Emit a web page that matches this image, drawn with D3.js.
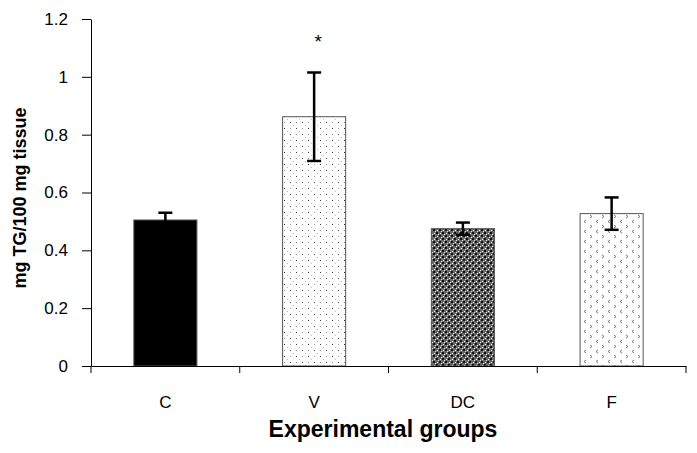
<!DOCTYPE html>
<html>
<head>
<meta charset="utf-8">
<script src="https://cdn.jsdelivr.net/npm/d3@7"></script>
<style>
  body { margin: 0; background: #fff; }
  text { font-family: "Liberation Sans", Arial, sans-serif; }
</style>
</head>
<body>
<svg id="chart" width="697" height="453"></svg>
<script>
const groups = ["C", "V", "DC", "F"];
const means = [0.505, 0.862, 0.475, 0.527];
const errors = [0.025, 0.153, 0.021, 0.056];
const fills = ["black", "url(#dots)", "url(#checks)", "url(#chevrons)"];
const yTicks = [0, 0.2, 0.4, 0.6, 0.8, 1, 1.2];
const marked = ["V"];

const svg = d3.select("#chart");
const margin = { top: 19, right: 11, bottom: 87, left: 91 };
const width = +svg.attr("width") - margin.left - margin.right;
const height = +svg.attr("height") - margin.top - margin.bottom;

// patterns
const defs = svg.append("defs");

const dots = defs.append("pattern").attr("id", "dots")
  .attr("patternUnits", "userSpaceOnUse").attr("width", 12).attr("height", 12);
dots.append("rect").attr("width", 12).attr("height", 12).attr("fill", "#fff");
[[1, 1, "#333"], [7, 1, "#999"], [1, 7, "#888"], [7, 7, "#444"], [4, 4, "#bbb"], [10, 10, "#bbb"]].forEach(([x, y, c]) => {
  dots.append("rect").attr("x", x).attr("y", y).attr("width", 1).attr("height", 1).attr("fill", c);
});

const checks = defs.append("pattern").attr("id", "checks")
  .attr("patternUnits", "userSpaceOnUse").attr("width", 6).attr("height", 6);
checks.append("rect").attr("width", 6).attr("height", 6).attr("fill", "#6a6a6a");
[[0, 0, 2, 2, "#111"], [3, 3, 2, 2, "#111"], [4, 1, 1, 1, "#fff"], [1, 4, 1, 1, "#fff"],
 [2, 2, 1, 1, "#ddd"], [5, 5, 1, 1, "#ddd"]].forEach(([x, y, w, h, c]) => {
  checks.append("rect").attr("x", x).attr("y", y).attr("width", w).attr("height", h).attr("fill", c);
});

const chev = defs.append("pattern").attr("id", "chevrons")
  .attr("patternUnits", "userSpaceOnUse").attr("width", 12).attr("height", 10);
chev.append("rect").attr("width", 12).attr("height", 10).attr("fill", "#fff");
chev.append("path").attr("d", "M3,1 L1,2.5 L3,4").attr("fill", "none").attr("stroke", "#777").attr("stroke-width", 1);
chev.append("path").attr("d", "M7,6 L9,7.5 L7,9").attr("fill", "none").attr("stroke", "#777").attr("stroke-width", 1);

const g = svg.append("g").attr("transform", `translate(${margin.left},${margin.top})`);

const x = d3.scaleBand().domain(groups).range([0, width]).paddingInner(0.576).paddingOuter(0.288);
const y = d3.scaleLinear().domain([0, 1.2]).range([height, 0]);

// bars
g.selectAll(".bar").data(groups).enter().append("rect")
  .attr("x", d => x(d))
  .attr("y", (d, i) => y(means[i]))
  .attr("width", x.bandwidth())
  .attr("height", (d, i) => y(0) - y(means[i]))
  .attr("fill", (d, i) => fills[i])
  .attr("stroke", "#555")
  .attr("stroke-width", 1);

// error bars
const eb = g.selectAll(".err").data(groups).enter().append("g")
  .attr("stroke", "black").attr("stroke-width", 2.5);
eb.append("line")
  .attr("x1", d => x(d) + x.bandwidth() / 2).attr("x2", d => x(d) + x.bandwidth() / 2)
  .attr("y1", (d, i) => y(means[i] + errors[i])).attr("y2", (d, i) => y(means[i] - errors[i]));
[1, -1].forEach(s => {
  eb.append("line")
    .attr("x1", d => x(d) + x.bandwidth() / 2 - 7).attr("x2", d => x(d) + x.bandwidth() / 2 + 7)
    .attr("y1", (d, i) => y(means[i] + s * errors[i])).attr("y2", (d, i) => y(means[i] + s * errors[i]));
});

// significance mark
g.selectAll(".star").data(marked).enter().append("text")
  .attr("x", d => x(d) + x.bandwidth() / 2 + 4)
  .attr("y", y(1.1))
  .attr("text-anchor", "middle")
  .attr("font-size", 19)
  .text("*");

// y axis
const yAxis = g.append("g")
  .call(d3.axisLeft(y).tickValues(yTicks).tickSize(9).tickSizeOuter(0).tickPadding(14)
    .tickFormat(d => String(+d.toFixed(1))));
yAxis.selectAll("text").attr("font-size", 17).attr("fill", "#000").attr("font-family", "Liberation Sans, Arial, sans-serif");
yAxis.selectAll("line, path").attr("stroke", "#000");

// x axis
const xAxis = g.append("g").attr("transform", `translate(0,${height})`)
  .call(d3.axisBottom(x).tickSize(0).tickSizeOuter(0).tickPadding(30));
xAxis.selectAll("text").attr("font-size", 17).attr("fill", "#000").attr("font-family", "Liberation Sans, Arial, sans-serif");
xAxis.select(".domain").attr("stroke", "#000");
xAxis.selectAll(".bound").data(d3.range(groups.length + 1)).enter().append("line")
  .attr("x1", i => i * x.step()).attr("x2", i => i * x.step())
  .attr("y1", 0).attr("y2", 7)
  .attr("stroke", "#000");

// titles
svg.append("text")
  .attr("x", 383)
  .attr("y", 437)
  .attr("text-anchor", "middle")
  .attr("font-size", 23)
  .attr("font-weight", "bold")
  .text("Experimental groups");

svg.append("text")
  .attr("transform", `translate(26,198) rotate(-90)`)
  .attr("text-anchor", "middle")
  .attr("font-size", 18)
  .attr("font-weight", "bold")
  .text("mg TG/100 mg tissue");
</script>
</body>
</html>
